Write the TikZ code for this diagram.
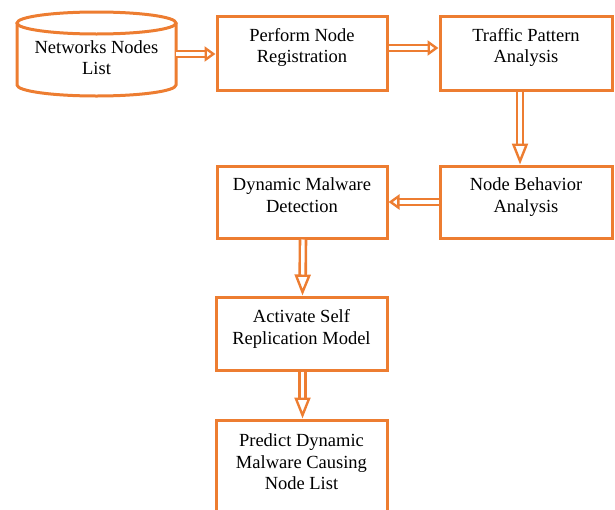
\documentclass[tikz,border=0pt]{standalone}
\usepackage{fontspec}
\setmainfont{Liberation Serif}
\usetikzlibrary{arrows.meta}
\definecolor{orng}{HTML}{ED7D31}
\tikzset{
  x=1pt, y=-1pt,
  box/.style={draw=orng, line width=3pt, align=center, font=\fontsize{18.5}{21.5}\selectfont, inner sep=0pt},
  cylbox/.style={align=center, font=\fontsize{18.5}{21.5}\selectfont, inner sep=0pt},
  cylline/.style={draw=orng, line width=3pt},
  hdbl/.style={
    postaction={draw=orng, line width=2.6pt, double=white, double distance=3.4pt, shorten >=8pt},
    postaction={draw=white, line width=0.4pt, -{Triangle[open, length=11pt, width=15pt, line width=2.4pt, color=orng, fill=white]}}},
  vdbl/.style={
    postaction={draw=orng, line width=2.6pt, double=white, double distance=3.4pt, shorten >=18pt},
    postaction={draw=white, line width=0.4pt, -{Triangle[open, length=21pt, width=16pt, line width=2.4pt, color=orng, fill=white]}}}
}
\begin{document}
\begin{tikzpicture}
\useasboundingbox (0,0) rectangle (615,509);
\clip (0,0) rectangle (615,509);
% cylinder
\node[cylbox, minimum width=159pt, minimum height=84pt, text height=42pt] (cyl) at (96.5,54) {Networks Nodes\\List};
\draw[cylline] (96.5,23) ellipse [x radius=79.5pt, y radius=11pt];
\draw[cylline] (17,23) -- (17,85) arc[start angle=180, end angle=360, x radius=79.5pt, y radius=11pt] -- (176,23);
% boxes
\node[box, minimum width=170pt, minimum height=74pt, text depth=15pt] (reg) at (302,53) {Perform Node\\Registration};
\node[box, minimum width=172pt, minimum height=74pt, text depth=15pt] (traf) at (526,53) {Traffic Pattern\\Analysis};
\node[box, minimum width=172pt, minimum height=72pt, text depth=14pt] (beh) at (526,202) {Node Behavior\\Analysis};
\node[box, minimum width=170pt, minimum height=72pt, text depth=14pt] (dyn) at (302,202) {Dynamic Malware\\Detection};
\node[box, minimum width=171pt, minimum height=73pt, text depth=13pt] (act) at (301.5,333.5) {Activate Self\\Replication Model};
\node[box, minimum width=171pt, minimum height=92pt, text depth=8pt] (pred) at (301.5,466) {Predict Dynamic\\Malware Causing\\Node List};
% arrows
\path[hdbl] (cyl.east) -- ([yshift=-1pt]reg.west);
\path[hdbl] ([yshift=5pt]reg.east) -- ([yshift=5pt]traf.west);
\path[vdbl] ([xshift=-6pt]traf.south) -- ([xshift=-6pt]beh.north);
\path[hdbl] (beh.west) -- (dyn.east);
\path[vdbl] ([xshift=1pt]dyn.south) -- ([xshift=1pt]act.north);
\path[vdbl] ([xshift=1pt]act.south) -- ([xshift=1pt]pred.north);
\end{tikzpicture}
\end{document}
